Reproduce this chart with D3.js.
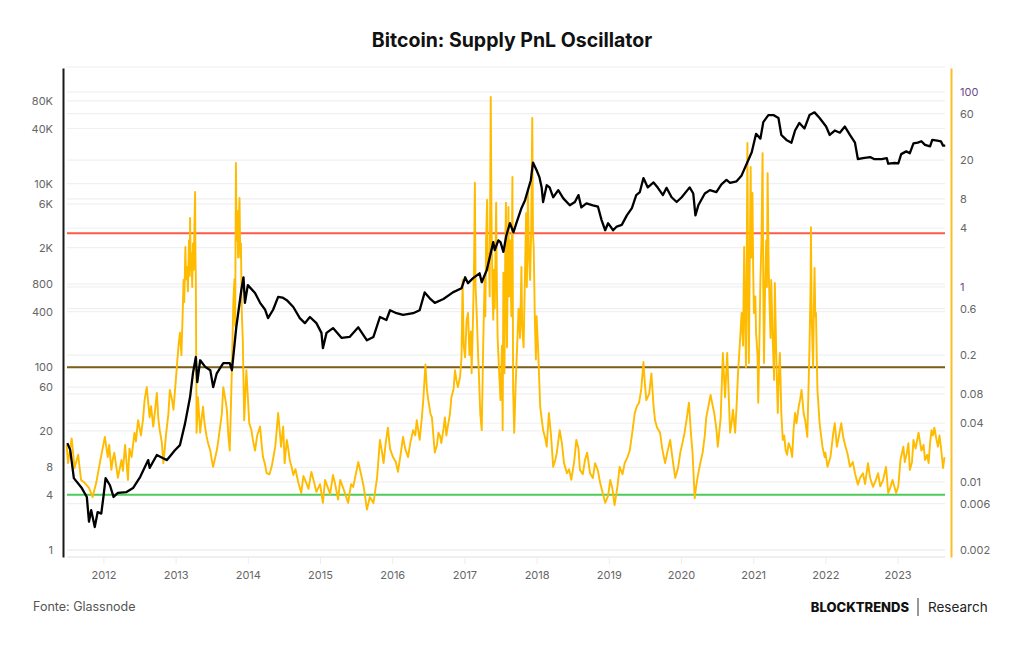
<!DOCTYPE html>
<html><head><meta charset="utf-8">
<script src="https://cdn.jsdelivr.net/npm/d3@7"></script>
<style>body{margin:0;background:#fff;font-family:Inter,"Open Sans",sans-serif}</style>
</head><body><svg id="c" width="1024" height="645"></svg>
<script>
const years = [2012,2013,2014,2015,2016,2017,2018,2019,2020,2021,2022,2023];
const leftTicks = [1,4,8,20,60,100,400,800,2000,6000,10000,40000,80000];
const rightTicks = [0.002,0.006,0.01,0.04,0.08,0.2,0.6,1,4,8,20,60,100];
const thresholds = [3.56, 0.15, 0.0074];
const thresholdColors = ["#fb5b47", "#7d5d17", "#4fcb5c"];

// Bitcoin price (USD), [decimal year, value]
const price = [[2011.50,14.7],[2011.54,12.4],[2011.59,6.1],[2011.70,4.75],[2011.77,3.8],[2011.80,2.04],[2011.83,2.73],[2011.88,1.78],[2011.92,2.6],[2011.97,2.5],[2012.00,3.8],[2012.03,6.1],[2012.09,5.1],[2012.14,3.8],[2012.20,4.2],[2012.32,4.3],[2012.41,4.75],[2012.51,6.3],[2012.62,9.6],[2012.64,7.9],[2012.74,10.9],[2012.82,10.1],[2012.88,9.6],[2012.99,12.3],[2013.06,14],[2013.13,24],[2013.20,46.8],[2013.24,85],[2013.28,128],[2013.30,68],[2013.34,118],[2013.41,100],[2013.48,92],[2013.52,60],[2013.57,85],[2013.66,110],[2013.75,110],[2013.78,92],[2013.84,270],[2013.91,690],[2013.94,950],[2013.96,500],[2014.00,780],[2014.10,640],[2014.17,500],[2014.24,420],[2014.28,340],[2014.35,420],[2014.42,580],[2014.48,570],[2014.54,535],[2014.63,450],[2014.72,340],[2014.79,300],[2014.86,350],[2014.95,300],[2015.02,235],[2015.04,160],[2015.09,235],[2015.18,265],[2015.30,207],[2015.41,212],[2015.53,270],[2015.65,195],[2015.74,212],[2015.83,350],[2015.92,325],[2015.97,415],[2016.06,385],[2016.15,370],[2016.29,385],[2016.38,415],[2016.45,650],[2016.52,560],[2016.59,500],[2016.71,550],[2016.84,650],[2016.96,720],[2017.01,950],[2017.05,820],[2017.12,930],[2017.21,1050],[2017.24,840],[2017.31,1140],[2017.40,2300],[2017.42,1880],[2017.47,2400],[2017.50,2300],[2017.54,1800],[2017.58,2700],[2017.63,3700],[2017.68,2950],[2017.72,3700],[2017.79,5400],[2017.84,6600],[2017.88,8500],[2017.92,10900],[2017.95,17000],[2018.00,14000],[2018.04,11700],[2018.07,9100],[2018.09,6300],[2018.14,9600],[2018.18,9100],[2018.23,7100],[2018.30,8500],[2018.37,6900],[2018.46,5800],[2018.53,6300],[2018.58,7500],[2018.62,5500],[2018.69,6100],[2018.78,5800],[2018.85,5600],[2018.90,4000],[2018.95,3100],[2018.99,3700],[2019.06,3100],[2019.11,3400],[2019.18,3550],[2019.25,4500],[2019.32,5400],[2019.38,7500],[2019.43,8100],[2019.48,11500],[2019.54,9100],[2019.62,10300],[2019.68,9000],[2019.75,7500],[2019.80,9000],[2019.87,7100],[2019.94,6300],[2020.01,7100],[2020.12,9100],[2020.17,7800],[2020.20,4500],[2020.24,5800],[2020.33,7800],[2020.40,8500],[2020.49,8100],[2020.56,9800],[2020.63,11000],[2020.68,10200],[2020.77,10600],[2020.84,12300],[2020.91,16500],[2020.98,22000],[2021.04,35000],[2021.10,31000],[2021.14,47000],[2021.21,56000],[2021.28,56000],[2021.35,52000],[2021.39,34000],[2021.46,30000],[2021.53,28000],[2021.58,38000],[2021.64,46000],[2021.71,40000],[2021.78,56000],[2021.85,60000],[2021.92,52000],[2022.01,42000],[2022.06,34000],[2022.13,38000],[2022.20,36000],[2022.27,42000],[2022.34,34000],[2022.41,28000],[2022.45,18500],[2022.52,19000],[2022.62,19500],[2022.68,18500],[2022.78,18500],[2022.85,19000],[2022.87,16500],[2022.96,16800],[2023.01,16600],[2023.05,21000],[2023.12,22500],[2023.17,21500],[2023.22,27500],[2023.28,28000],[2023.33,29000],[2023.38,26500],[2023.45,25500],[2023.48,30000],[2023.55,29500],[2023.60,29000],[2023.63,26000],[2023.66,26000]];

// Supply PnL Oscillator, [decimal year, value]
const oscillator = [[2011.49,0.024],[2011.51,0.0156],[2011.56,0.028],[2011.60,0.0139],[2011.65,0.019],[2011.69,0.0105],[2011.74,0.0098],[2011.80,0.0087],[2011.85,0.0070],[2011.90,0.0098],[2011.95,0.0156],[2012.02,0.029],[2012.06,0.018],[2012.11,0.0133],[2012.15,0.020],[2012.20,0.011],[2012.25,0.0168],[2012.30,0.024],[2012.34,0.0105],[2012.39,0.018],[2012.43,0.032],[2012.48,0.043],[2012.52,0.030],[2012.57,0.069],[2012.60,0.094],[2012.64,0.046],[2012.69,0.037],[2012.74,0.082],[2012.78,0.034],[2012.83,0.0156],[2012.87,0.032],[2012.92,0.088],[2012.97,0.055],
[2013.01,0.13],[2013.04,0.25],[2013.06,0.34],[2013.08,0.2],[2013.10,0.6],[2013.11,1.18],[2013.12,0.7],[2013.135,2.57],[2013.145,1.2],[2013.16,1.6],[2013.17,0.9],[2013.185,3.0],[2013.195,1.3],[2013.20,5.1],[2013.21,1.5],[2013.22,2.2],[2013.23,1.0],[2013.24,2.8],[2013.25,1.5],[2013.26,4.0],[2013.27,9.4],[2013.275,2.0],[2013.28,1.18],[2013.29,0.032],[2013.31,0.074],[2013.34,0.032],[2013.38,0.059],[2013.43,0.029],[2013.48,0.021],[2013.52,0.0143],[2013.57,0.021],[2013.61,0.034],[2013.66,0.094],[2013.71,0.055],[2013.75,0.021],
[2013.78,0.15],[2013.80,0.73],[2013.815,1.2],[2013.825,0.4],[2013.835,18.7],[2013.845,3.0],[2013.855,6.0],[2013.865,2.0],[2013.875,4.5],[2013.885,8.2],[2013.895,2.0],[2013.905,2.8],[2013.915,0.6],[2013.93,0.29],[2013.95,0.043],[2013.98,0.14],[2014.02,0.04],[2014.05,0.034],[2014.10,0.021],[2014.17,0.037],[2014.21,0.018],[2014.26,0.0123],[2014.33,0.0143],[2014.38,0.023],[2014.42,0.051],[2014.46,0.023],[2014.49,0.037],[2014.51,0.0156],[2014.54,0.027],[2014.58,0.0168],[2014.63,0.0118],[2014.70,0.0098],[2014.74,0.0077],[2014.81,0.0098],[2014.88,0.0127],[2014.95,0.0079],[2015.04,0.0061],[2015.11,0.0087],[2015.18,0.0118],[2015.25,0.0066],[2015.32,0.0087],[2015.39,0.0061],[2015.46,0.0089],[2015.53,0.016],[2015.58,0.011],[2015.65,0.0052],[2015.69,0.0070],[2015.74,0.0061],[2015.79,0.011],[2015.83,0.027],[2015.88,0.0156],[2015.94,0.036],[2016.01,0.018],[2016.08,0.0127],[2016.15,0.029],[2016.22,0.018],[2016.29,0.034],[2016.34,0.043],[2016.38,0.027],[2016.43,0.069],[2016.46,0.16],[2016.50,0.069],[2016.55,0.046],[2016.59,0.020],[2016.64,0.032],[2016.68,0.025],[2016.73,0.046],[2016.77,0.037],[2016.82,0.074],[2016.87,0.14],[2016.91,0.094],
[2016.96,0.19],[2016.975,1.18],[2016.99,0.25],[2017.01,0.19],[2017.03,0.45],[2017.05,0.54],[2017.07,0.2],[2017.09,0.35],[2017.10,0.13],[2017.12,0.5],[2017.135,2.0],[2017.145,11.7],[2017.155,1.0],[2017.17,0.54],[2017.19,0.2],[2017.20,0.13],[2017.22,0.05],[2017.24,0.034],[2017.26,0.24],[2017.28,1.2],[2017.29,0.5],[2017.30,3.0],[2017.315,7.8],[2017.325,1.5],[2017.34,2.2],[2017.35,0.8],[2017.365,89],[2017.375,5.7],[2017.39,0.8],[2017.40,0.46],[2017.41,1.5],[2017.42,0.6],[2017.44,7.3],[2017.45,1.0],[2017.46,0.3],[2017.48,0.14],[2017.50,0.069],[2017.52,0.25],[2017.53,0.034],[2017.54,1.4],[2017.555,0.13],[2017.565,2.0],[2017.575,7.3],[2017.585,0.5],[2017.59,0.24],[2017.60,1.5],[2017.61,6.6],[2017.62,0.8],[2017.635,3.0],[2017.65,0.5],[2017.665,13.4],[2017.675,0.088],[2017.69,0.032],[2017.71,0.1],[2017.73,0.24],[2017.75,0.6],[2017.77,0.3],[2017.79,1.6],[2017.80,0.4],[2017.82,0.24],[2017.84,1.5],[2017.855,5.7],[2017.865,1.0],[2017.88,9.9],[2017.895,2.0],[2017.91,1.18],[2017.925,4.0],[2017.94,54],[2017.95,3.5],[2017.96,2.57],[2017.975,0.5],[2017.99,0.18],[2018.00,0.5],[2018.02,0.24],[2018.05,0.059],
[2018.09,0.034],[2018.14,0.023],[2018.17,0.051],[2018.23,0.0143],[2018.28,0.020],[2018.32,0.034],[2018.38,0.0156],[2018.42,0.0123],[2018.48,0.0105],[2018.55,0.027],[2018.60,0.0133],[2018.67,0.0168],[2018.74,0.0123],[2018.81,0.0156],[2018.88,0.0098],[2018.95,0.0061],[2019.02,0.0105],[2019.08,0.0058],[2019.15,0.0143],[2019.22,0.0156],[2019.29,0.021],[2019.36,0.051],[2019.42,0.065],[2019.48,0.17],[2019.52,0.069],[2019.59,0.13],[2019.64,0.043],[2019.71,0.032],[2019.78,0.0156],[2019.85,0.027],[2019.92,0.011],[2019.99,0.020],[2020.05,0.032],[2020.11,0.065],[2020.16,0.020],[2020.19,0.0068],[2020.24,0.0123],[2020.30,0.020],[2020.35,0.046],[2020.41,0.078],[2020.46,0.051],[2020.51,0.023],[2020.55,0.046],[2020.58,0.21],[2020.61,0.074],[2020.64,0.21],[2020.68,0.032],[2020.72,0.055],[2020.75,0.032],
[2020.79,0.13],[2020.82,0.3],[2020.84,0.54],[2020.86,0.25],[2020.875,2.57],[2020.89,0.4],[2020.90,0.15],[2020.91,1.5],[2020.92,30],[2020.93,1.0],[2020.94,0.166],[2020.955,3.0],[2020.965,17],[2020.975,2.0],[2020.99,9.2],[2021.00,1.5],[2021.01,0.54],[2021.03,0.8],[2021.04,0.34],[2021.06,0.2],[2021.07,0.065],[2021.09,0.4],[2021.10,1.18],[2021.115,3.0],[2021.13,23.6],[2021.14,1.0],[2021.15,0.166],[2021.165,1.0],[2021.18,3.0],[2021.19,1.0],[2021.20,14.7],[2021.215,1.5],[2021.23,0.54],[2021.24,0.3],[2021.25,1.18],[2021.27,0.3],[2021.29,0.111],[2021.30,1.1],[2021.32,0.2],[2021.34,0.051],[2021.36,0.15],[2021.37,0.21],[2021.39,0.05],[2021.41,0.027],[2021.45,0.021],[2021.49,0.025],[2021.54,0.018],[2021.58,0.051],[2021.63,0.059],[2021.67,0.088],[2021.72,0.043],[2021.75,0.029],
[2021.78,0.24],[2021.795,1.0],[2021.80,4.1],[2021.81,0.5],[2021.83,0.15],[2021.84,0.6],[2021.85,1.57],[2021.86,0.5],[2021.87,0.54],[2021.88,0.2],[2021.89,0.088],[2021.92,0.040],[2021.96,0.023],[2022.03,0.0143],[2022.11,0.032],[2022.16,0.023],[2022.22,0.040],[2022.28,0.023],[2022.34,0.0143],[2022.41,0.0123],[2022.45,0.0094],[2022.52,0.0123],[2022.59,0.0156],[2022.66,0.0089],[2022.73,0.0123],[2022.80,0.0105],[2022.84,0.0143],[2022.87,0.0077],[2022.93,0.0105],[2022.98,0.0077],[2023.04,0.0168],[2023.08,0.023],[2023.13,0.020],[2023.17,0.0133],[2023.22,0.027],[2023.29,0.032],[2023.33,0.021],[2023.38,0.0168],[2023.43,0.0156],[2023.47,0.034],[2023.51,0.036],[2023.56,0.023],[2023.60,0.023],[2023.63,0.0139],[2023.65,0.018]];

// finer wiggles read in the quieter stretches
const oscillatorDetail = [[2012.08,0.024],[2012.13,0.017],[2012.27,0.013],[2012.36,0.022],[2012.45,0.026],[2012.55,0.045],[2012.66,0.06],[2012.71,0.05],[2012.76,0.045],[2012.81,0.025],[2012.85,0.022],[2012.90,0.05],[2012.95,0.07],[2013.36,0.045],[2013.40,0.04],[2013.45,0.025],[2013.50,0.017],[2013.55,0.018],[2013.59,0.026],[2013.64,0.05],[2013.69,0.07],[2013.73,0.03],[2014.07,0.027],[2014.13,0.03],[2014.19,0.025],[2014.24,0.015],[2014.30,0.012],[2014.36,0.019],[2014.40,0.034],[2014.44,0.035],[2014.56,0.022],[2014.61,0.014],[2014.66,0.0135],[2014.77,0.0115],[2014.84,0.0085],[2014.91,0.0105],[2015.00,0.0095],[2015.07,0.0105],[2015.14,0.0075],[2015.21,0.0095],[2015.28,0.0105],[2015.35,0.0075],[2015.43,0.0095],[2015.50,0.0125],[2015.61,0.0085],[2015.86,0.02],[2015.91,0.025],[2015.97,0.022],[2016.05,0.016],[2016.12,0.02],[2016.18,0.022],[2016.25,0.025],[2016.32,0.03],[2016.41,0.045],[2016.48,0.09],[2016.53,0.05],[2016.57,0.03],[2016.62,0.024],[2016.66,0.03],[2016.71,0.035],[2016.75,0.03],[2016.80,0.05],[2016.85,0.09],[2016.89,0.11],[2016.94,0.12],[2018.12,0.028],[2018.20,0.03],[2018.26,0.017],[2018.35,0.025],[2018.45,0.0135],[2018.52,0.016],[2018.58,0.022],[2018.64,0.012],[2018.70,0.02],[2018.78,0.011],[2018.85,0.013],[2018.92,0.0075],[2018.99,0.0072],[2019.05,0.0085],[2019.12,0.009],[2019.19,0.012],[2019.26,0.018],[2019.32,0.03],[2019.39,0.06],[2019.45,0.09],[2019.50,0.1],[2019.56,0.08],[2019.62,0.06],[2019.67,0.036],[2019.74,0.022],[2019.81,0.02],[2019.88,0.018],[2019.96,0.014],[2020.02,0.025],[2020.08,0.045],[2020.14,0.03],[2020.21,0.009],[2020.27,0.016],[2020.33,0.03],[2020.38,0.06],[2020.44,0.06],[2020.49,0.035],[2020.53,0.032],[2020.70,0.04],[2020.77,0.06],[2021.43,0.03],[2021.47,0.019],[2021.52,0.022],[2021.56,0.035],[2021.60,0.04],[2021.65,0.07],[2021.70,0.05],[2021.94,0.03],[2021.99,0.018],[2022.00,0.02],[2022.07,0.018],[2022.13,0.04],[2022.19,0.03],[2022.25,0.028],[2022.31,0.019],[2022.38,0.016],[2022.48,0.011],[2022.55,0.0095],[2022.62,0.011],[2022.70,0.0105],[2022.76,0.009],[2022.90,0.0088],[2023.01,0.009],[2023.10,0.016],[2023.15,0.025],[2023.20,0.016],[2023.25,0.022],[2023.31,0.026],[2023.36,0.024],[2023.41,0.019],[2023.45,0.025],[2023.49,0.03],[2023.54,0.027],[2023.58,0.03]];

const oscSeries = oscillator.concat(oscillatorDetail).sort((a, b) => a[0] - b[0]);

const svg = d3.select("#c");
const L = 63, R = 951, T = 68, B = 557;
const x = d3.scaleLinear().domain([2011.44, 2023.74]).range([L, R]);
const yL = d3.scaleLog().domain([0.84, 183000]).range([B, T]);
const yR = d3.scaleLog().domain([0.0017, 176]).range([B, T]);

// title
svg.append("text").attr("x", 512).attr("y", 47).attr("text-anchor", "middle")
  .attr("font-family", "Inter, sans-serif").attr("font-weight", 700).attr("font-size", 19.5)
  .attr("fill", "#111").text("Bitcoin: Supply PnL Oscillator");

// gridlines
const grid = svg.append("g");
grid.selectAll("line.gl").data(leftTicks).join("line").attr("class", "gl")
  .attr("x1", L + 4).attr("x2", R - 6).attr("y1", d => yL(d)).attr("y2", d => yL(d))
  .attr("stroke", "#f0f0f0").attr("stroke-width", 1.2);
grid.selectAll("line.gr").data(rightTicks).join("line").attr("class", "gr")
  .attr("x1", L + 4).attr("x2", R - 6).attr("y1", d => yR(d)).attr("y2", d => yR(d))
  .attr("stroke", "#f0f0f0").attr("stroke-width", 1.2);
grid.append("line").attr("x1", L + 4).attr("x2", R - 6).attr("y1", T - 1).attr("y2", T - 1)
  .attr("stroke", "#eeeeee").attr("stroke-width", 1.2);

// bottom axis
const xAxis = d3.axisBottom(x).tickValues(years).tickFormat(d3.format("d")).tickSize(7).tickPadding(7);
const gx = svg.append("g").attr("transform", `translate(0,${B})`).call(xAxis);
gx.select(".domain").attr("stroke", "#eaeaea").attr("stroke-width", 1.5).attr("d", `M${L+4},0H${R-6}`);
gx.selectAll(".tick line").attr("stroke", "#eeeeee");
gx.selectAll(".tick text").attr("fill", "#666").attr("font-size", 11).attr("font-family", "Inter, sans-serif");

// left axis
const fmtL = d => d >= 1000 ? (d / 1000) + "K" : String(d);
const yAxisL = d3.axisLeft(yL).tickValues(leftTicks).tickFormat(fmtL).tickSize(0).tickPadding(10);
const gl = svg.append("g").attr("transform", `translate(${L},0)`).call(yAxisL);
gl.select(".domain").attr("stroke", "#1a1a1a").attr("stroke-width", 2);
gl.selectAll(".tick text").attr("fill", "#666").attr("font-size", 11).attr("font-family", "Inter, sans-serif");

// right axis
const yAxisR = d3.axisRight(yR).tickValues(rightTicks).tickFormat(d => String(d)).tickSize(0).tickPadding(9);
const gr = svg.append("g").attr("transform", `translate(${R},0)`).call(yAxisR);
gr.select(".domain").attr("stroke", "#fbbf24").attr("stroke-width", 2);
gr.selectAll(".tick text").attr("fill", d => (d === 1 || d === 100) ? "#6d4b8c" : "#666")
  .attr("font-size", 11).attr("font-family", "Inter, sans-serif");

// threshold lines
svg.selectAll("line.th").data(thresholds).join("line").attr("class", "th")
  .attr("x1", L + 4).attr("x2", R - 6).attr("y1", d => yR(d)).attr("y2", d => yR(d))
  .attr("stroke", (d, i) => thresholdColors[i]).attr("stroke-width", 2);

// series (oscillator beneath price)
svg.append("path").datum(oscSeries)
  .attr("d", d3.line().x(d => x(d[0])).y(d => yR(d[1])))
  .attr("fill", "none").attr("stroke", "#ffbb00").attr("stroke-width", 1.9).attr("stroke-linejoin", "round");
svg.append("path").datum(price)
  .attr("d", d3.line().x(d => x(d[0])).y(d => yL(d[1])))
  .attr("fill", "none").attr("stroke", "#000").attr("stroke-width", 2.3).attr("stroke-linejoin", "round");

// footer
svg.append("text").attr("x", 33).attr("y", 611).attr("font-family", "Inter, sans-serif")
  .attr("font-size", 12.5).attr("fill", "#555").text("Fonte: Glassnode");
svg.append("text").attr("x", 909).attr("y", 612).attr("text-anchor", "end").attr("font-family", "Inter, sans-serif")
  .attr("font-weight", 800).attr("font-size", 13).attr("fill", "#111").text("BLOCKTRENDS");
svg.append("line").attr("x1", 918).attr("x2", 918).attr("y1", 598).attr("y2", 616).attr("stroke", "#333").attr("stroke-width", 1);
svg.append("text").attr("x", 928).attr("y", 612).attr("font-family", "Inter, sans-serif")
  .attr("font-size", 13.5).attr("fill", "#222").text("Research");
</script></body></html>
